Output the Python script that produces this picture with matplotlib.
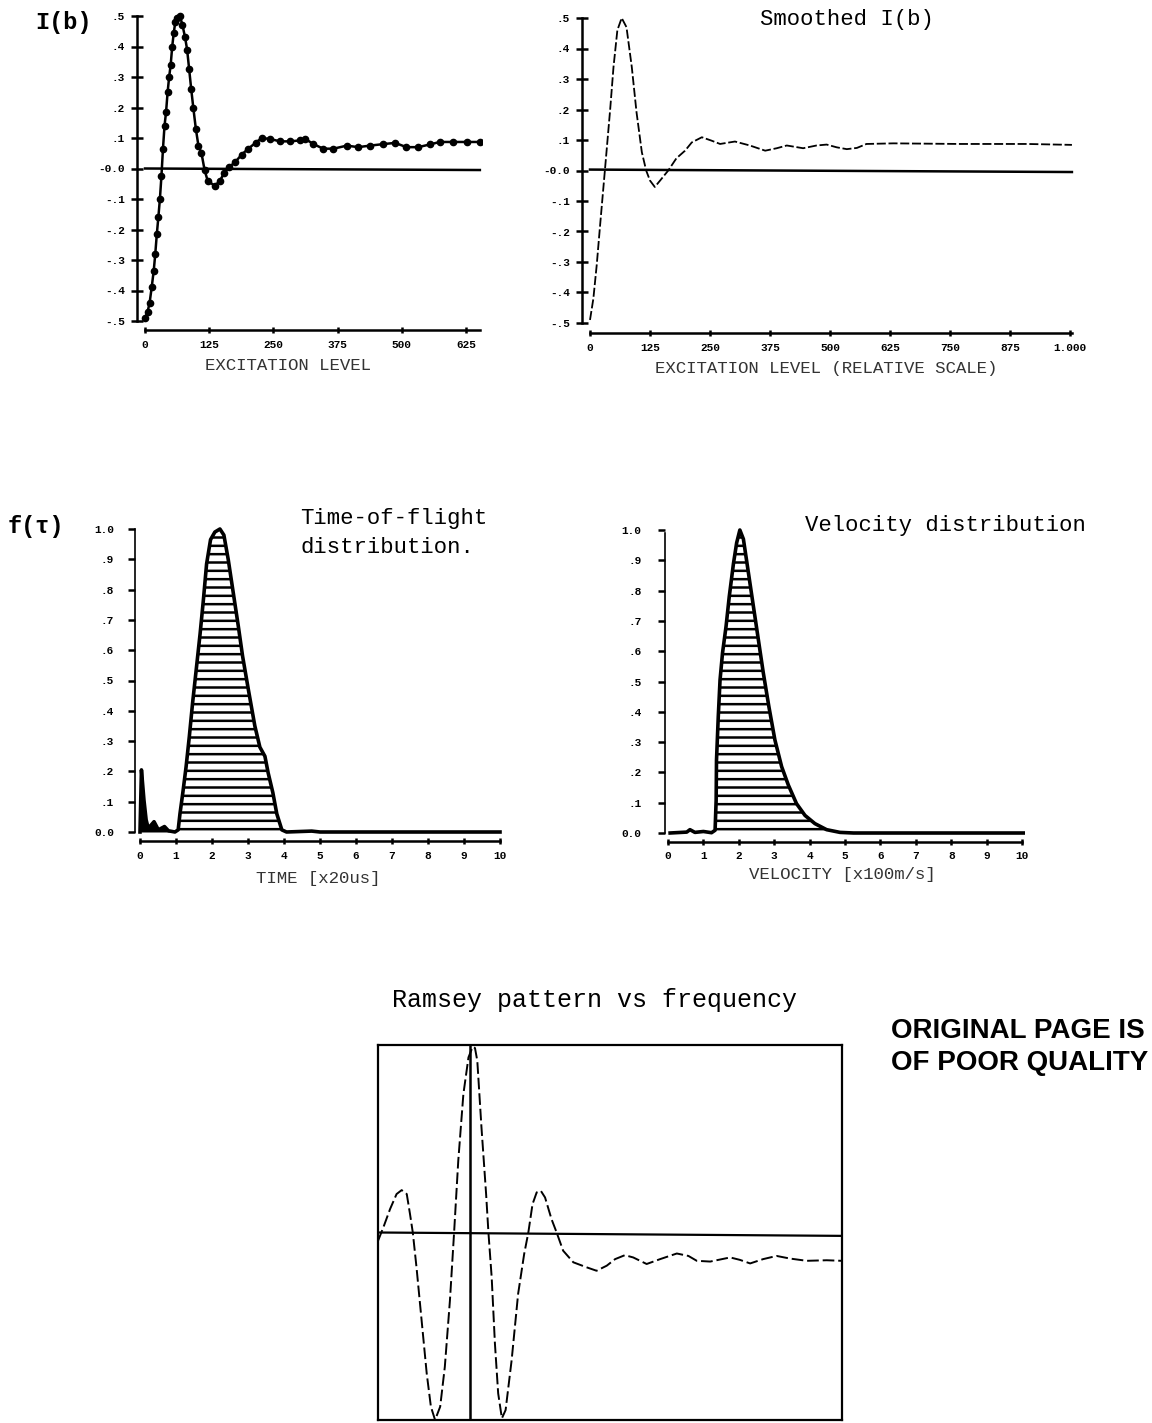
import matplotlib
matplotlib.use("Agg")
import matplotlib.pyplot as plt

W, H = 1152, 1423
plt.rcParams['hatch.linewidth'] = 1.8
MONO = ['Liberation Mono', 'DejaVu Sans Mono']

# ---- data ----
# I(b), raw points
ib_x = [0, 5, 9, 13, 17, 20, 23, 26, 29, 32, 35, 38, 41, 44, 47, 50, 53, 56, 59, 63,
        68, 73, 78, 82, 86, 90, 94, 99, 104, 110, 116, 122, 136, 146, 154, 164, 175,
        188, 201, 216, 227, 243, 263, 282, 302, 312, 328, 347, 367, 393, 415, 438,
        464, 487, 509, 532, 555, 574, 600, 626, 652]
ib_y = [-0.49, -0.47, -0.44, -0.39, -0.335, -0.28, -0.215, -0.16, -0.10, -0.025,
        0.065, 0.14, 0.185, 0.25, 0.30, 0.34, 0.40, 0.445, 0.48, 0.495, 0.50, 0.47,
        0.43, 0.39, 0.325, 0.26, 0.20, 0.13, 0.075, 0.05, -0.005, -0.04, -0.057,
        -0.04, -0.015, 0.005, 0.02, 0.045, 0.065, 0.085, 0.10, 0.097, 0.089, 0.089,
        0.092, 0.097, 0.08, 0.065, 0.065, 0.075, 0.07, 0.075, 0.08, 0.084, 0.07,
        0.07, 0.079, 0.087, 0.087, 0.087, 0.087]

# smoothed I(b)
sm_x = [0, 7, 14, 21, 31, 42, 49, 57, 66, 76, 87, 97, 108, 117, 125, 135, 146, 163,
        180, 198, 212, 233, 253, 271, 302, 333, 365, 389, 410, 444, 472, 493, 514,
        535, 556, 576, 632, 771, 910, 1004]
sm_y = [-0.49, -0.42, -0.31, -0.18, 0.0, 0.2, 0.34, 0.46, 0.5, 0.47, 0.34, 0.19,
        0.06, 0.0, -0.033, -0.054, -0.033, 0.0, 0.04, 0.065, 0.092, 0.109, 0.098,
        0.087, 0.095, 0.082, 0.065, 0.073, 0.082, 0.073, 0.082, 0.085, 0.076, 0.07,
        0.074, 0.087, 0.089, 0.087, 0.087, 0.084]

# time-of-flight distribution
tof_t = [0.0, 0.04, 0.11, 0.17, 0.23, 0.39, 0.51, 0.68, 0.79, 0.97, 1.06, 1.11, 1.19,
         1.28, 1.37, 1.46, 1.57, 1.67, 1.76, 1.85, 1.96, 2.08, 2.22, 2.33, 2.45, 2.59,
         2.73, 2.85, 3.01, 3.19, 3.33, 3.47, 3.56, 3.69, 3.80, 3.94, 4.07, 4.77, 5.0, 10.0]
tof_f = [0.0, 0.205, 0.105, 0.04, 0.012, 0.034, 0.007, 0.018, 0.004, 0.0, 0.007, 0.06,
         0.13, 0.215, 0.315, 0.425, 0.545, 0.655, 0.765, 0.885, 0.965, 0.99, 1.0, 0.98,
         0.90, 0.79, 0.68, 0.58, 0.47, 0.35, 0.28, 0.25, 0.195, 0.13, 0.06, 0.007, 0.0,
         0.003, 0.0, 0.0]

# velocity distribution
vel_v = [0.06, 0.53, 0.62, 0.76, 1.0, 1.23, 1.33, 1.36, 1.37, 1.42, 1.47, 1.54, 1.64,
         1.73, 1.85, 1.94, 2.03, 2.13, 2.27, 2.41, 2.55, 2.69, 2.85, 3.02, 3.21, 3.40,
         3.63, 3.87, 4.15, 4.48, 4.86, 5.24, 10.08]
vel_f = [0.0, 0.003, 0.011, 0.002, 0.005, 0.001, 0.009, 0.108, 0.24, 0.384, 0.505,
         0.594, 0.682, 0.78, 0.89, 0.958, 1.0, 0.97, 0.86, 0.75, 0.64, 0.53, 0.417,
         0.307, 0.219, 0.158, 0.097, 0.058, 0.031, 0.011, 0.002, 0.0, 0.0]

# Ramsey pattern (arbitrary units)
ram_x = [0, 1.15, 2.6, 4.0, 5.1, 6.2, 6.9, 7.5, 8.3, 9.4, 10.5, 11.4, 12.3, 13.4, 14.4,
         15.5, 16.4, 17.3, 18.4, 19.5, 20.4, 20.9, 21.4, 22.3, 23.3, 23.8, 24.5, 25.2,
         25.9, 26.7, 27.5, 28.8, 30.2, 31.5, 32.4, 33.3, 34.2, 35.1, 36.0, 37.4, 38.5,
         39.9, 42.1, 45.0, 47.1, 49.3, 51.1, 53.2, 55.0, 57.9, 60.8, 64.4, 66.9, 68.7,
         71.6, 75.9, 78.0, 80.2, 83.0, 85.9, 88.8, 92.4, 96.7, 99.9]
ram_y = [-0.045, 0.027, 0.125, 0.205, 0.226, 0.205, 0.098, 0.0, -0.186, -0.469, -0.752,
         -0.929, -1.0, -0.929, -0.717, -0.363, 0.0, 0.383, 0.738, 0.934, 0.99, 0.984,
         0.916, 0.56, 0.205, 0.0, -0.239, -0.593, -0.858, -0.991, -0.947, -0.681,
         -0.327, -0.115, 0.0, 0.151, 0.214, 0.222, 0.187, 0.071, 0.0, -0.097, -0.159,
         -0.186, -0.204, -0.177, -0.142, -0.121, -0.133, -0.168, -0.142, -0.112,
         -0.125, -0.151, -0.155, -0.133, -0.146, -0.165, -0.142, -0.125, -0.139,
         -0.151, -0.148, -0.151]
ram_center = 19.8

ib_ticks = [0, 125, 250, 375, 500, 625]
ib_ticklabels = ['0', '125', '250', '375', '500', '625']
sm_ticks = [0, 125, 250, 375, 500, 625, 750, 875, 1000]
sm_ticklabels = ['0', '125', '250', '375', '500', '625', '750', '875', '1.000']
amp_ticks = [0.5, 0.4, 0.3, 0.2, 0.1, 0.0, -0.1, -0.2, -0.3, -0.4, -0.5]
amp_ticklabels = ['.5', '.4', '.3', '.2', '.1', '-0.0', '-.1', '-.2', '-.3', '-.4', '-.5']
dist_ticks = [1.0, 0.9, 0.8, 0.7, 0.6, 0.5, 0.4, 0.3, 0.2, 0.1, 0.0]
dist_ticklabels = ['1.0', '.9', '.8', '.7', '.6', '.5', '.4', '.3', '.2', '.1', '0.0']
unit_ticks = list(range(0, 11))


def place(fig, left, right, top, bottom, xref, yref):
    # axes box in pixels; xref/yref = ((value, pixel), (value, pixel))
    ax = fig.add_axes([left / W, 1 - bottom / H, (right - left) / W, (bottom - top) / H])
    (xv0, xp0), (xv1, xp1) = xref
    sx = (xv1 - xv0) / (xp1 - xp0)
    ax.set_xlim(xv0 + (left - xp0) * sx, xv0 + (right - xp0) * sx)
    (yv0, yp0), (yv1, yp1) = yref
    sy = (yv1 - yv0) / (yp1 - yp0)
    ax.set_ylim(yv0 + (bottom - yp0) * sy, yv0 + (top - yp0) * sy)
    ax.patch.set_alpha(0)
    for s in ['top', 'right']:
        ax.spines[s].set_visible(False)
    for s in ['left', 'bottom']:
        ax.spines[s].set_linewidth(1.8)
    ax.tick_params(labelsize=8, width=1.8)
    return ax


def ftext(x, y, s, **kw):
    fig.text(x / W, 1 - y / H, s, **kw)


fig = plt.figure(figsize=(W / 100, H / 100), dpi=100)

# --- I(b) ---
ax1 = place(fig, 137, 482, 10, 330, ((0, 145), (625, 466)), ((0.5, 16), (-0.5, 321)))
ax1.plot(ib_x, ib_y, color='black', lw=1.8, marker='o', ms=4.5)
ax1.plot([0, 652], [0, -0.005], color='black', lw=1.8)
ax1.spines['left'].set_bounds(-0.5, 0.5)
ax1.spines['bottom'].set_bounds(0, 652)
ax1.set_yticks(amp_ticks, amp_ticklabels, fontfamily=MONO, fontweight='bold')
ax1.set_xticks(ib_ticks, ib_ticklabels, fontfamily=MONO, fontweight='bold')
ax1.tick_params(axis='y', direction='inout', length=9, pad=4)
ax1.tick_params(axis='x', direction='inout', length=5, pad=5)

# --- smoothed I(b) ---
ax2 = place(fig, 582, 1075, 12, 333, ((0, 590), (1000, 1070)), ((0.5, 18), (-0.5, 323)))
ax2.plot(sm_x, sm_y, color='black', lw=1.3, dashes=(5, 1.5))
ax2.plot([0, 1004], [0.003, -0.005], color='black', lw=1.8)
ax2.spines['left'].set_bounds(-0.5, 0.5)
ax2.spines['bottom'].set_bounds(0, 1004)
ax2.set_yticks(amp_ticks, amp_ticklabels, fontfamily=MONO, fontweight='bold')
ax2.set_xticks(sm_ticks, sm_ticklabels, fontfamily=MONO, fontweight='bold')
ax2.tick_params(axis='y', direction='inout', length=9, pad=4)
ax2.tick_params(axis='x', direction='inout', length=5, pad=5)

# --- time of flight ---
ax3 = place(fig, 135, 505, 522, 841, ((0, 140), (10, 500)), ((1.0, 529), (0.0, 832)))
ax3.fill_between(tof_t, tof_f, 0, facecolor='white', edgecolor='black', hatch='--', lw=0)
ax3.fill_between(tof_t[:10], tof_f[:10], 0, color='black', lw=0)
ax3.plot(tof_t, tof_f, color='black', lw=2.6)
ax3.spines['left'].set_bounds(0, 1.0)
ax3.spines['bottom'].set_bounds(0, 10)
ax3.spines['left'].set_linewidth(1.2)
ax3.set_yticks(dist_ticks, dist_ticklabels, fontfamily=MONO, fontweight='bold')
ax3.set_xticks(unit_ticks, [str(t) for t in unit_ticks], fontfamily=MONO, fontweight='bold')
ax3.tick_params(axis='y', direction='out', length=5, pad=10)
ax3.tick_params(axis='x', direction='inout', length=5, pad=5)

# --- velocity ---
ax4 = place(fig, 665, 1025, 522, 842, ((0, 668), (10, 1022)), ((1.0, 530), (0.0, 833)))
ax4.fill_between(vel_v, vel_f, 0, facecolor='white', edgecolor='black', hatch='--', lw=0)
ax4.plot(vel_v, vel_f, color='black', lw=2.6)
ax4.spines['left'].set_bounds(0, 0.99)
ax4.spines['bottom'].set_bounds(0, 10)
ax4.spines['left'].set_linewidth(1.2)
ax4.set_yticks(dist_ticks, dist_ticklabels, fontfamily=MONO, fontweight='bold')
ax4.set_xticks(unit_ticks, [str(t) for t in unit_ticks], fontfamily=MONO, fontweight='bold')
ax4.tick_params(axis='y', direction='out', length=5, pad=12)
ax4.tick_params(axis='x', direction='inout', length=5, pad=4)

# --- Ramsey pattern ---
ax5 = fig.add_axes([378 / W, 1 - 1420 / H, (842 - 378) / W, (1420 - 1045) / H])
ax5.set_xlim(0, 100)
ax5.set_ylim(-1, 1)
ax5.plot(ram_x, ram_y, color='black', lw=1.4, dashes=(6, 2))
ax5.plot([0, 100], [0, -0.018], color='black', lw=1.6)
ax5.axvline(ram_center, color='black', lw=1.8)
ax5.set_xticks([])
ax5.set_yticks([])
for s in ax5.spines.values():
    s.set_linewidth(1.6)

# --- text ---
ftext(35, 22, 'I(b)', fontsize=17, fontweight='bold', family=MONO, va='center')
ftext(8, 527, 'f(τ)', fontsize=17, fontweight='bold', family=MONO, va='center')
ftext(760, 20, 'Smoothed I(b)', fontsize=16, family=MONO, va='center')
ftext(300, 533, 'Time-of-flight\ndistribution.', fontsize=16, family=MONO, va='center',
      linespacing=1.55)
ftext(805, 526, 'Velocity distribution', fontsize=16, family=MONO, va='center')
ftext(595, 1000, 'Ramsey pattern vs frequency', fontsize=18, family=MONO, va='center',
      ha='center')
ftext(288, 366, 'EXCITATION LEVEL', fontsize=12.5, family=MONO, va='center', ha='center',
      color='#333333')
ftext(826, 368, 'EXCITATION LEVEL (RELATIVE SCALE)', fontsize=12.5, family=MONO,
      va='center', ha='center', color='#333333')
ftext(318, 878, 'TIME [x20us]', fontsize=12.5, family=MONO, va='center', ha='center',
      color='#333333')
ftext(842, 875, 'VELOCITY [x100m/s]', fontsize=12.5, family=MONO, va='center', ha='center',
      color='#333333')
ftext(891, 1047, 'ORIGINAL PAGE IS\nOF POOR QUALITY', fontsize=20, fontweight='bold',
      family=['Liberation Sans', 'DejaVu Sans'], va='center', linespacing=1.25)

fig.savefig('out.png', dpi=100)
